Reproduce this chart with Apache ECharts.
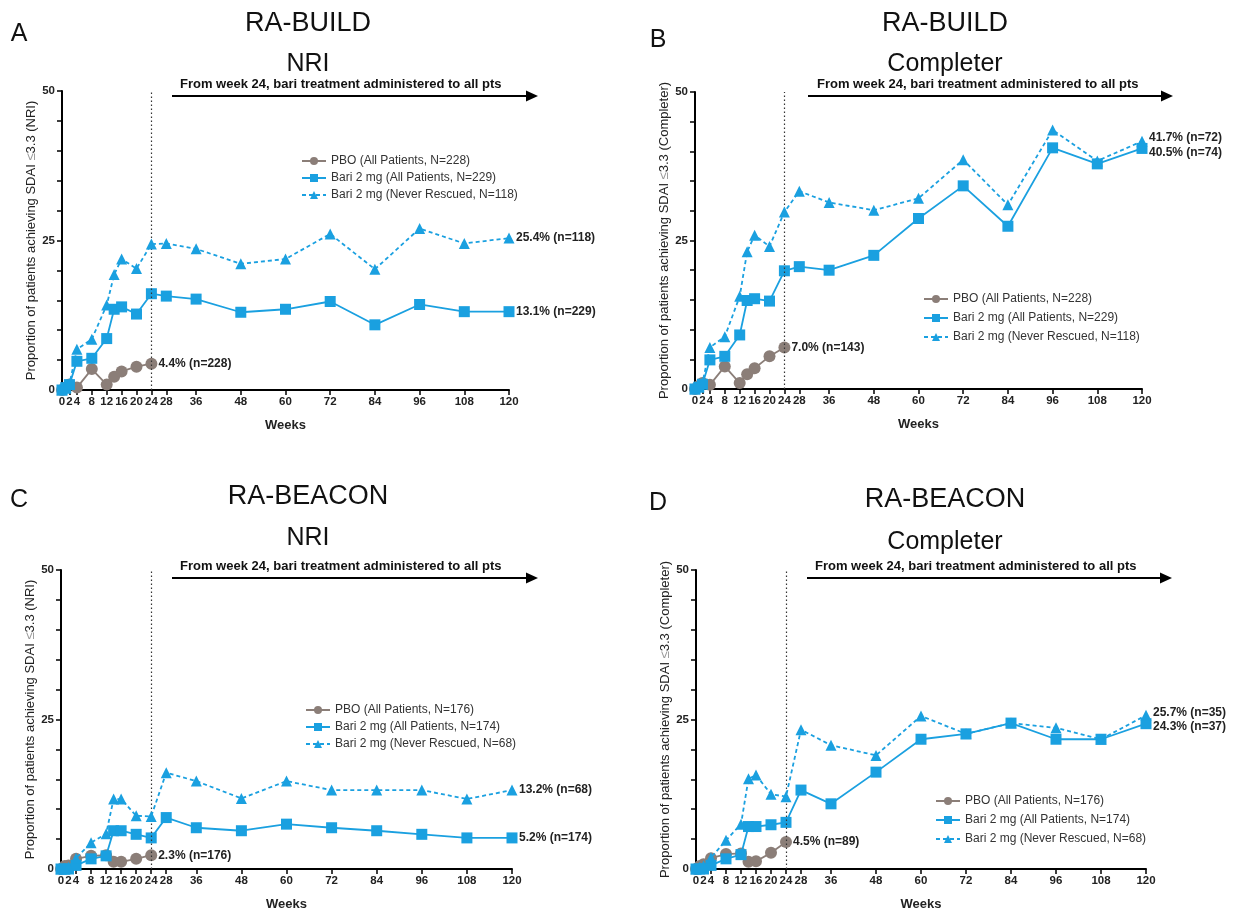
<!DOCTYPE html>
<html><head><meta charset="utf-8">
<script src="https://cdn.jsdelivr.net/npm/echarts@6/dist/echarts.min.js"></script>
<style>html,body{margin:0;padding:0;background:#fff}#c{width:1242px;height:912px}</style>
</head><body><div id="c"></div>
<script>
// ---- data ----
const weeksEarly = [0, 1, 2, 4, 8, 12, 14, 16, 20, 24];
const weeksAll = [0, 1, 2, 4, 8, 12, 14, 16, 20, 24, 28, 36, 48, 60, 72, 84, 96, 108, 120];
const tickWeeks = [0, 1, 2, 4, 8, 12, 16, 20, 24, 28, 36, 48, 60, 72, 84, 96, 108, 120];

// Panel A: RA-BUILD NRI
const aPbo = [0, 0.4, 0.9, 0.4, 3.5, 0.9, 2.2, 3.1, 3.9, 4.4];
const aBari = [0, 0.4, 0.9, 4.8, 5.3, 8.6, 13.5, 13.9, 12.7, 16.1, 15.7, 15.2, 13.0, 13.5, 14.8, 10.9, 14.3, 13.1, 13.1];
const aNever = [0, 0.3, 1.0, 6.8, 8.5, 14.2, 19.3, 21.9, 20.3, 24.4, 24.5, 23.6, 21.1, 21.9, 26.1, 20.2, 27.0, 24.5, 25.4];
// Panel B: RA-BUILD Completer
const bPbo = [0, 0.5, 1.0, 0.7, 3.8, 1.0, 2.5, 3.5, 5.5, 7.0];
const bBari = [0, 0.3, 0.8, 4.9, 5.5, 9.1, 14.9, 15.2, 14.8, 19.9, 20.6, 20.0, 22.5, 28.7, 34.2, 27.4, 40.6, 37.9, 40.5];
const bNever = [0, 0.5, 1.0, 7.0, 8.8, 15.6, 23.1, 25.9, 24.0, 29.8, 33.3, 31.4, 30.1, 32.1, 38.6, 31.0, 43.6, 38.4, 41.7];
// Panel C: RA-BEACON NRI
const cPbo = [0, 0.5, 0.6, 1.7, 2.2, 2.3, 1.2, 1.2, 1.7, 2.3];
const cBari = [0, 0, 0, 0.6, 1.7, 2.2, 6.4, 6.4, 5.8, 5.2, 8.6, 6.9, 6.4, 7.5, 6.9, 6.4, 5.8, 5.2, 5.2];
const cNever = [0, 0, 0.3, 1.8, 4.4, 5.9, 11.7, 11.7, 8.9, 8.8, 16.1, 14.7, 11.8, 14.7, 13.2, 13.2, 13.2, 11.7, 13.2];
// Panel D: RA-BEACON Completer
const dPbo = [0, 0.5, 0.8, 1.8, 2.5, 2.6, 1.2, 1.3, 2.7, 4.5];
const dBari = [0, 0, 0, 0.6, 1.7, 2.4, 7.1, 7.1, 7.4, 7.8, 13.2, 10.9, 16.2, 21.7, 22.6, 24.4, 21.7, 21.7, 24.3];
const dNever = [0, 0.3, 0.5, 1.9, 4.8, 7.5, 15.1, 15.7, 12.5, 12.1, 23.3, 20.7, 19.0, 25.6, 22.6, 24.4, 23.6, 21.7, 25.7];

const namesBuild = ['PBO (All Patients, N=228)', 'Bari 2 mg (All Patients, N=229)', 'Bari 2 mg (Never Rescued, N=118)'];
const namesBeacon = ['PBO (All Patients, N=176)', 'Bari 2 mg (All Patients, N=174)', 'Bari 2 mg (Never Rescued, N=68)'];
const endTexts = {
  A: ['4.4% (n=228)', '13.1% (n=229)', '25.4% (n=118)'],
  B: ['7.0% (n=143)', '40.5% (n=74)', '41.7% (n=72)'],
  C: ['2.3% (n=176)', '5.2% (n=174)', '13.2% (n=68)'],
  D: ['4.5% (n=89)', '24.3% (n=37)', '25.7% (n=35)']
};

// ---- style ----
const FONT = '"Liberation Sans", Arial, Helvetica, sans-serif';
const GREY = '#8b7e78';
const BLUE = '#1aa0e0';

const yNameNRI = 'Proportion of patients achieving SDAI {g|\u2264}3.3 (NRI)';
const yNameComp = 'Proportion of patients achieving SDAI {g|\u2264}3.3 (Completer)';

const panels = [
  {key: 'A', grid: {left: 62, top: 91, width: 447, height: 299}, yname: yNameNRI,
   data: [aPbo, aBari, aNever], names: namesBuild, legend: {left: 296, top: 150, itemGap: 5}, offs: [[0,0],[0,0],[0,0]]},
  {key: 'B', grid: {left: 695, top: 92, width: 447, height: 297}, yname: yNameComp,
   data: [bPbo, bBari, bNever], names: namesBuild, legend: {left: 918, top: 288, itemGap: 7}, offs: [[0,0],[0,4],[0,-4]]},
  {key: 'C', grid: {left: 61, top: 570, width: 451, height: 301}, yname: yNameNRI,
   data: [cPbo, cBari, cNever], names: namesBeacon, legend: {left: 300, top: 699, itemGap: 5}, offs: [[0,0],[0,0],[0,0]]},
  {key: 'D', grid: {left: 696, top: 570, width: 450, height: 300}, yname: yNameComp,
   data: [dPbo, dBari, dNever], names: namesBeacon, legend: {left: 930, top: 790, itemGap: 7}, offs: [[0,0],[0,3],[0,-3]]}
];

const grids = [], xAxes = [], yAxes = [], series = [], legends = [];
panels.forEach((p, i) => {
  grids.push(Object.assign({containLabel: false}, p.grid));
  xAxes.push({
    type: 'value', gridIndex: i, min: 0, max: 120,
    name: 'Weeks', nameLocation: 'middle', nameGap: 29,
    nameTextStyle: {fontFamily: FONT, fontWeight: 'bold', fontSize: 13, color: '#222'},
    axisLine: {show: true, lineStyle: {color: '#000', width: 2}},
    axisTick: {show: true, length: 5, lineStyle: {color: '#000', width: 1.5}, customValues: tickWeeks},
    axisLabel: {fontFamily: FONT, fontWeight: 'bold', fontSize: 11.5, color: '#222', margin: 6,
      customValues: tickWeeks, hideOverlap: false, showMinLabel: true, showMaxLabel: true},
    splitLine: {show: false}
  });
  yAxes.push({
    type: 'value', gridIndex: i, min: 0, max: 50, interval: 5,
    name: p.yname, nameLocation: 'middle', nameGap: 21, nameRotate: 90,
    nameTextStyle: {fontFamily: FONT, fontSize: 13, color: '#222', rich: {g: {fontFamily: FONT, fontSize: 13, color: '#999'}}},
    axisLine: {show: true, lineStyle: {color: '#000', width: 2}},
    axisTick: {show: true, length: 5, lineStyle: {color: '#000', width: 1.5}},
    axisLabel: {fontFamily: FONT, fontWeight: 'bold', fontSize: 11.5, color: '#222', margin: 7,
      formatter: v => (v === 0 || v === 25 || v === 50) ? String(v) : ''},
    splitLine: {show: false}
  });
  const specs = [
    {weeks: weeksEarly, sym: 'circle', size: 12, color: GREY, type: 'solid'},
    {weeks: weeksAll, sym: 'rect', size: 11, color: BLUE, type: 'solid'},
    {weeks: weeksAll, sym: 'triangle', size: 11, color: BLUE, type: [4, 3]}
  ];
  specs.forEach((s, j) => {
    const vals = p.data[j];
    const txt = endTexts[p.key][j];
    const ser = {
      type: 'line', name: p.names[j], xAxisIndex: i, yAxisIndex: i,
      data: s.weeks.map((w, k) => [w, vals[k]]),
      symbol: s.sym, symbolSize: s.size, showAllSymbol: true,
      itemStyle: {color: s.color},
      lineStyle: {color: s.color, width: 1.8, type: s.type},
      endLabel: {show: true, formatter: () => txt, fontFamily: FONT, fontWeight: 'bold', fontSize: 12, color: '#222',
        distance: 7, offset: p.offs[j]},
      emphasis: {disabled: true}, animation: false, z: 3 + j
    };
    if (j === 0) {
      ser.markLine = {silent: true, symbol: 'none', animation: false,
        lineStyle: {color: '#333', type: [1.5, 2.5], width: 1.2},
        label: {show: false}, data: [{xAxis: 24}]};
    }
    series.push(ser);
  });
  legends.push({
    orient: 'vertical', left: p.legend.left, top: p.legend.top, itemGap: p.legend.itemGap,
    itemWidth: 24, itemHeight: 10, data: p.names, selectedMode: false,
    textStyle: {fontFamily: FONT, fontSize: 12, color: '#333'}
  });
});

// ---- decorative text & arrows ----
function txt(x, y, text, size, opts) {
  return {type: 'text', x: x, y: y, silent: true,
    style: {text: text, font: (opts && opts.bold ? 'bold ' : '') + size + 'px ' + FONT, fill: '#111',
      textAlign: (opts && opts.align) || 'center', textVerticalAlign: 'middle'}};
}
function arrow(x1, x2, y) {
  return [
    {type: 'line', silent: true, shape: {x1: x1, y1: y, x2: x2 - 10, y2: y}, style: {stroke: '#000', lineWidth: 2}},
    {type: 'polygon', silent: true, shape: {points: [[x2 - 12, y - 5.5], [x2, y], [x2 - 12, y + 5.5]]}, style: {fill: '#000'}}
  ];
}
const banner = 'From week 24, bari treatment administered to all pts';
const graphics = [
  txt(19, 34, 'A', 25), txt(308, 24, 'RA-BUILD', 27), txt(308, 64, 'NRI', 25),
  txt(180, 84, banner, 13, {bold: true, align: 'left'}), ...arrow(172, 538, 96),
  txt(658, 40, 'B', 25), txt(945, 24, 'RA-BUILD', 27), txt(945, 64, 'Completer', 25),
  txt(817, 84, banner, 13, {bold: true, align: 'left'}), ...arrow(808, 1173, 96),
  txt(19, 500, 'C', 25), txt(308, 497, 'RA-BEACON', 27), txt(308, 538, 'NRI', 25),
  txt(180, 566, banner, 13, {bold: true, align: 'left'}), ...arrow(172, 538, 578),
  txt(658, 503, 'D', 25), txt(945, 500, 'RA-BEACON', 27), txt(945, 542, 'Completer', 25),
  txt(815, 566, banner, 13, {bold: true, align: 'left'}), ...arrow(807, 1172, 578)
];

const chart = echarts.init(document.getElementById('c'), null, {renderer: 'canvas'});
chart.setOption({
  animation: false, backgroundColor: '#fff',
  grid: grids, xAxis: xAxes, yAxis: yAxes, series: series, legend: legends,
  graphic: {elements: graphics}
});
</script></body></html>
